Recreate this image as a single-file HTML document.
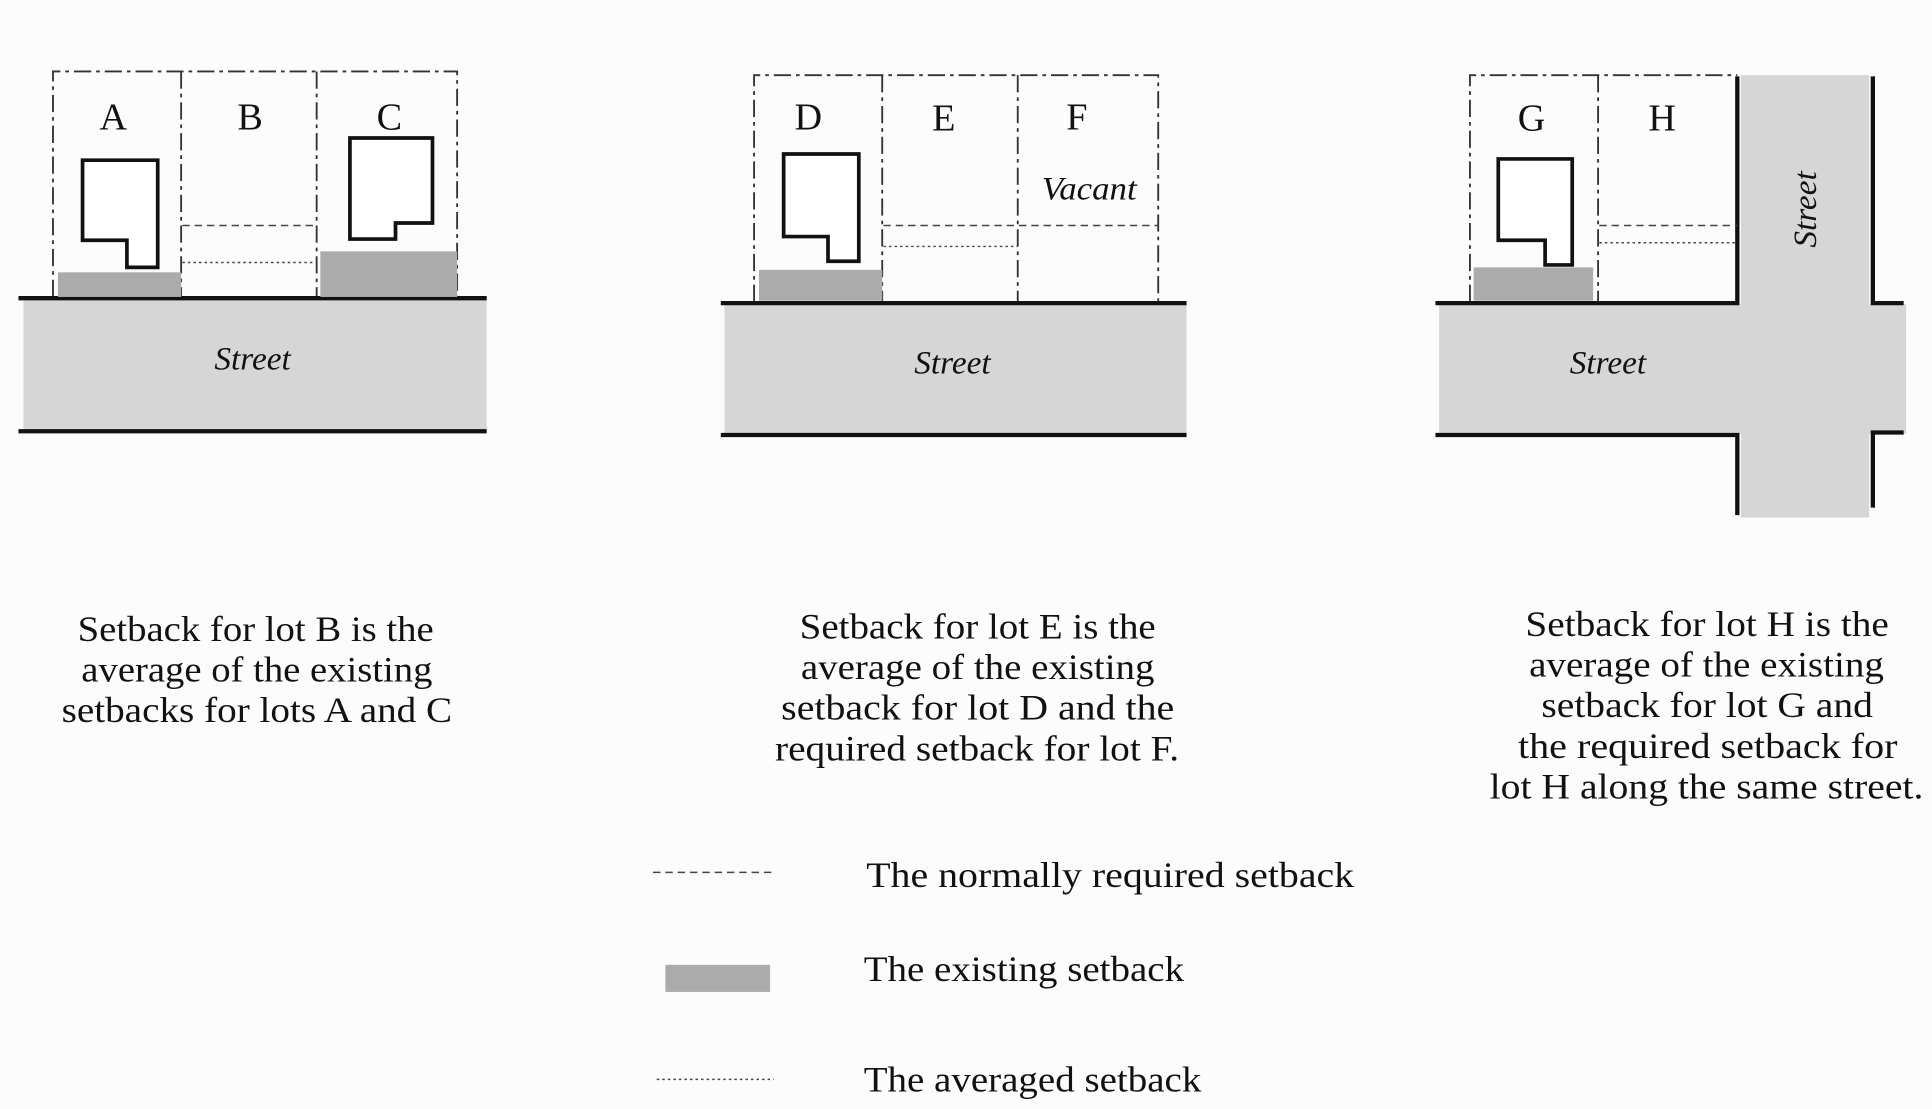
<!DOCTYPE html>
<html><head><meta charset="utf-8"><style>
html,body{margin:0;padding:0;background:#fcfcfc;}
svg{display:block;}
text{font-family:"Liberation Serif",serif;fill:#111;}
.l{font-size:31px;text-anchor:middle;}
.s{font-size:27px;font-style:italic;text-anchor:middle;}
.c{font-size:29px;}
.g{font-size:29px;}
</style></head><body>
<svg width="1932" height="1109" viewBox="0 0 1568 900" preserveAspectRatio="none" xmlns="http://www.w3.org/2000/svg">
<rect width="1568" height="900" fill="#fcfcfc"/>
<g fill="none" stroke="#333" stroke-width="1.5" stroke-dasharray="14,4,3,4">
<path d="M43,241 V58 H371 V241 M147,58 V241 M257,58 V241"/>
<path d="M612,245 V61 H940 V245 M716,61 V245 M826,61 V245"/>
<path d="M1193,245 V61 H1410 M1297,61 V245"/>
</g>
<rect x="19" y="243" width="376" height="107" fill="#d6d6d6"/>
<rect x="588" y="247" width="375" height="106" fill="#d6d6d6"/>
<rect x="1168" y="247" width="379" height="105" fill="#d6d6d6"/>
<rect x="1413" y="61" width="104" height="359" fill="#d6d6d6"/>
<g stroke="#111" stroke-width="3.5" fill="none">
<path d="M15,242 H395 M15,350 H395"/>
<path d="M585,246 H963 M585,353 H963"/>
<path d="M1165,246 H1410 V62 M1520,62 V246 H1545 M1165,353 H1410 V418 M1520,412 V351 H1545"/>
</g>
<g fill="#ababab">
<rect x="47" y="221" width="100" height="20"/>
<rect x="260" y="204" width="111" height="37"/>
<rect x="616" y="219" width="100" height="25"/>
<rect x="1196" y="217" width="97" height="27"/>
</g>
<g fill="#fff" stroke="#111" stroke-width="3">
<path d="M67,130 H128 V217 H103 V195 H67 Z"/>
<path d="M284,112 H351 V181 H321 V194 H284 Z"/>
<path d="M636,125 H697 V212 H672 V192 H636 Z"/>
<path d="M1216,129 H1276 V215 H1254 V195 H1216 Z"/>
</g>
<g stroke="#444" stroke-width="1.2" stroke-dasharray="6,4" fill="none">
<path d="M148,183 H256 M717,183 H940 M1298,183 H1410"/>
<path d="M530,708 H628"/>
</g>
<g stroke="#444" stroke-width="1.2" stroke-dasharray="2,2.5" fill="none">
<path d="M148,213 H256 M717,200 H826 M1298,197 H1410"/>
<path d="M533,876 H628"/>
</g>
<rect x="540" y="783" width="85" height="22" fill="#ababab"/>
<text class="l" x="92" y="105">A</text>
<text class="l" x="203" y="105">B</text>
<text class="l" x="316" y="105">C</text>
<text class="l" x="656" y="105">D</text>
<text class="l" x="766" y="106">E</text>
<text class="l" x="874" y="105">F</text>
<text class="l" x="1243" y="106">G</text>
<text class="l" x="1349" y="106">H</text>
<text class="s" x="884" y="162" textLength="77" lengthAdjust="spacingAndGlyphs">Vacant</text>
<text class="s" x="205" y="300">Street</text>
<text class="s" x="773" y="303">Street</text>
<text class="s" x="1305" y="303">Street</text>
<text class="s" transform="translate(1474,170) rotate(-90)">Street</text>
<g lengthAdjust="spacingAndGlyphs">
<text class="c" x="63" y="520" textLength="289" lengthAdjust="spacingAndGlyphs">Setback for lot B is the</text>
<text class="c" x="66" y="553" textLength="285" lengthAdjust="spacingAndGlyphs">average of the existing</text>
<text class="c" x="50" y="586" textLength="317" lengthAdjust="spacingAndGlyphs">setbacks for lots A and C</text>
<text class="c" x="649" y="518" textLength="289" lengthAdjust="spacingAndGlyphs">Setback for lot E is the</text>
<text class="c" x="650" y="551" textLength="287" lengthAdjust="spacingAndGlyphs">average of the existing</text>
<text class="c" x="634" y="584" textLength="319" lengthAdjust="spacingAndGlyphs">setback for lot D and the</text>
<text class="c" x="629" y="617" textLength="328" lengthAdjust="spacingAndGlyphs">required setback for lot F.</text>
<text class="c" x="1238" y="516" textLength="295" lengthAdjust="spacingAndGlyphs">Setback for lot H is the</text>
<text class="c" x="1241" y="549" textLength="288" lengthAdjust="spacingAndGlyphs">average of the existing</text>
<text class="c" x="1251" y="582" textLength="269" lengthAdjust="spacingAndGlyphs">setback for lot G and</text>
<text class="c" x="1232" y="615" textLength="308" lengthAdjust="spacingAndGlyphs">the required setback for</text>
<text class="c" x="1209" y="648" textLength="352" lengthAdjust="spacingAndGlyphs">lot H along the same street.</text>
<text class="g" x="703" y="720" textLength="396" lengthAdjust="spacingAndGlyphs">The normally required setback</text>
<text class="g" x="701" y="796" textLength="260" lengthAdjust="spacingAndGlyphs">The existing setback</text>
<text class="g" x="701" y="886" textLength="274" lengthAdjust="spacingAndGlyphs">The averaged setback</text>
</g>
</svg>
</body></html>
